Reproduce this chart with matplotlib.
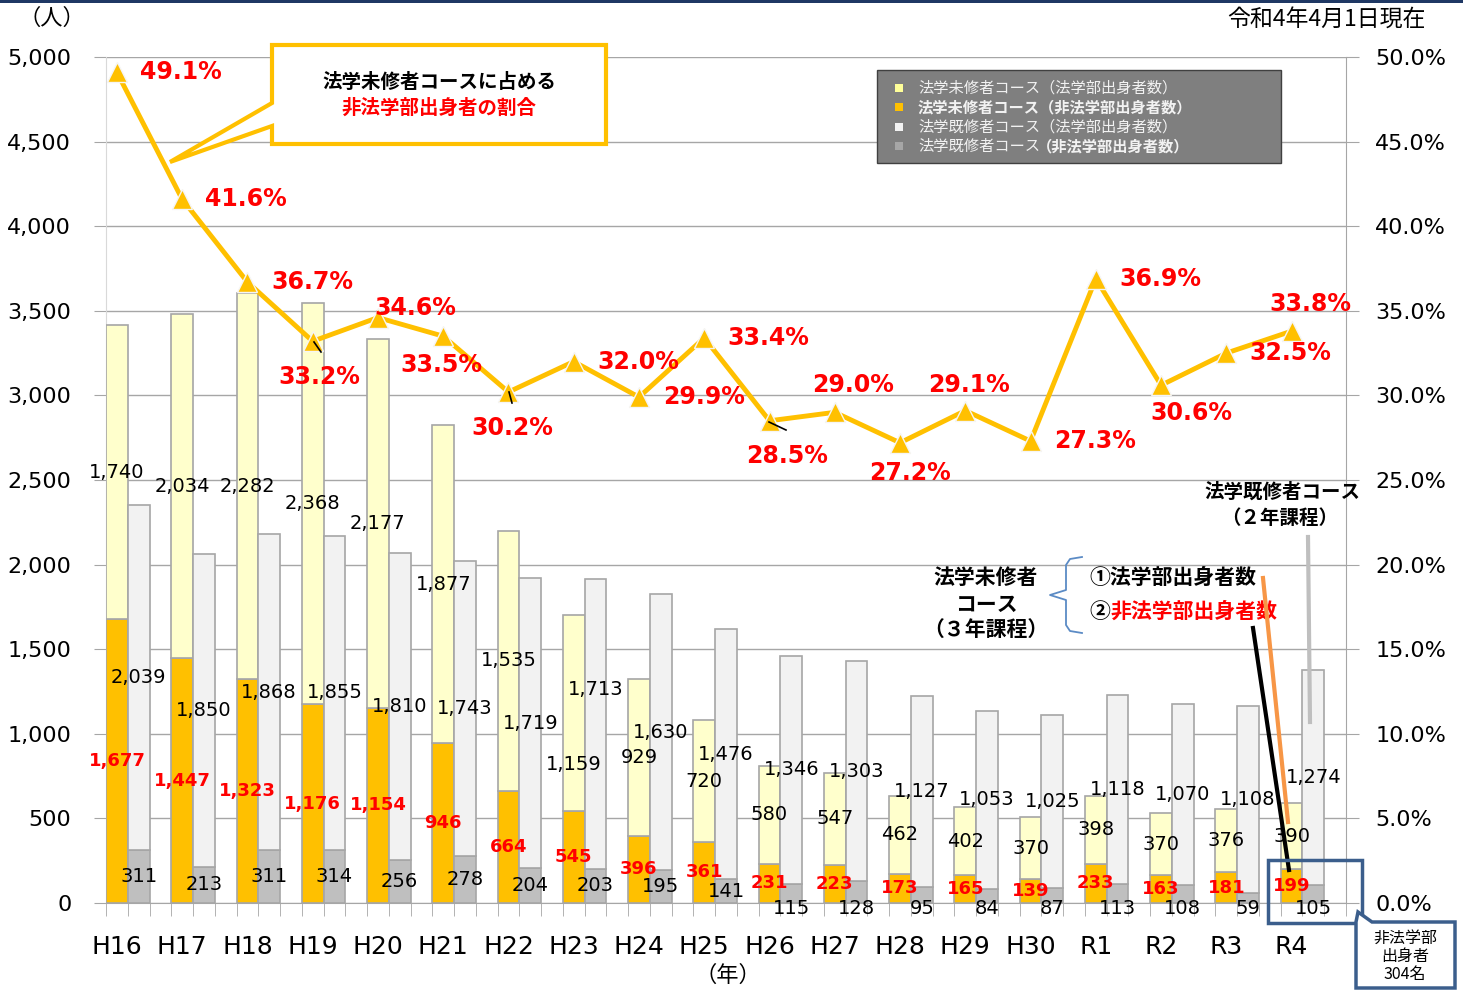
import numpy as np
import matplotlib.pyplot as plt
from matplotlib.patches import Rectangle, Polygon
from matplotlib.lines import Line2D
from matplotlib.ticker import FuncFormatter, FixedLocator

plt.rcParams['font.family'] = ['DejaVu Sans', 'Noto Sans CJK JP']
JP = ['Noto Sans CJK JP', 'DejaVu Sans']

years = ['H16', 'H17', 'H18', 'H19', 'H20', 'H21', 'H22', 'H23', 'H24', 'H25',
         'H26', 'H27', 'H28', 'H29', 'H30', 'R1', 'R2', 'R3', 'R4']
mishu_hogaku = [1740, 2034, 2282, 2368, 2177, 1877, 1535, 1159, 929, 720,
                580, 547, 462, 402, 370, 398, 370, 376, 390]
mishu_hihogaku = [1677, 1447, 1323, 1176, 1154, 946, 664, 545, 396, 361,
                  231, 223, 173, 165, 139, 233, 163, 181, 199]
kishu_hogaku = [2039, 1850, 1868, 1855, 1810, 1743, 1719, 1713, 1630, 1476,
                1346, 1303, 1127, 1053, 1025, 1118, 1070, 1108, 1274]
kishu_hihogaku = [311, 213, 311, 314, 256, 278, 204, 203, 195, 141,
                  115, 128, 95, 84, 87, 113, 108, 59, 105]
ratio = [49.1, 41.6, 36.7, 33.2, 34.6, 33.5, 30.2, 32.0, 29.9, 33.4,
         28.5, 29.0, 27.2, 29.1, 27.3, 36.9, 30.6, 32.5, 33.8]

# label offsets (pixels) for the percentage labels
pct_off = [(64, 0), (64, 0), (65, 0), (7, -36), (37, 10), (-2, -29), (4, -36),
           (65, 0), (65, 0), (64, 0), (18, -35), (18, 27), (10, -30), (4, 26),
           (65, 0), (65, 0), (30, -28), (64, 0), (19, 27)]
# label nudges (pixels) where labels were moved by hand in the original
yl_nudge = {7: -52}
kl_nudge = {7: 34}

c_ylight = '#FFFFCC'
c_orange = '#FFC000'
c_glight = '#F2F2F2'
c_gray = '#BFBFBF'
c_edge = '#A6A6A6'
c_blue = '#3B5E8C'

W, H = 1463, 990
fig = plt.figure(figsize=(W / 100, H / 100), dpi=100)


def px(x, y):
    return (x / W, 1 - y / H)


ax = fig.add_axes([106 / W, 1 - 903 / H, (1346 - 106) / W, (903 - 57) / H])

n = len(years)
xm = np.arange(n) * 3 + 0.5
xk = xm + 1
mh = np.array(mishu_hihogaku)
ml = np.array(mishu_hogaku)
kh = np.array(kishu_hihogaku)
kl = np.array(kishu_hogaku)

ax.bar(xm, mh, width=1, color=c_orange, edgecolor=c_edge, lw=1.2, zorder=3)
ax.bar(xm, ml, width=1, bottom=mh, color=c_ylight, edgecolor=c_edge, lw=1.2, zorder=3)
ax.bar(xk, kh, width=1, color=c_gray, edgecolor=c_edge, lw=1.2, zorder=3)
ax.bar(xk, kl, width=1, bottom=kh, color=c_glight, edgecolor=c_edge, lw=1.2, zorder=3)

for i in range(n):
    ax.text(xm[i], mh[i] / 2, f'{mh[i]:,}', color='red', fontweight='bold',
            fontsize=13, ha='center', va='center', zorder=5)
    ax.annotate(f'{ml[i]:,}', (xm[i], mh[i] + ml[i] / 2), xytext=(0, yl_nudge.get(i, 0)),
                textcoords='offset pixels', color='black', fontsize=14,
                ha='center', va='center', zorder=5)
    ky = kh[i] / 2 if i < 10 else -35
    ax.text(xk[i], ky, f'{kh[i]:,}', color='black', fontsize=14,
            ha='center', va='center', zorder=5)
    ax.annotate(f'{kl[i]:,}', (xk[i], kh[i] + kl[i] / 2), xytext=(0, kl_nudge.get(i, 0)),
                textcoords='offset pixels', color='black', fontsize=14,
                ha='center', va='center', zorder=5)

ax.set_xlim(0, n * 3)
ax.set_ylim(0, 5000)
ax.set_yticks(np.arange(0, 5001, 500))
ax.yaxis.set_major_formatter(FuncFormatter(lambda v, p: f'{int(v):,}'))
ax.grid(axis='y', color='#A6A6A6', lw=1, zorder=0)
ax.set_xticks(xm)
ax.set_xticklabels(years, fontsize=18)
ax.xaxis.set_minor_locator(FixedLocator(np.arange(0, n * 3 + 1)))
ax.tick_params(axis='x', which='major', length=0, pad=23)
ax.tick_params(axis='x', which='minor', length=9, color='#A6A6A6', direction='out')
ax.tick_params(axis='y', length=9, color='#A6A6A6', labelsize=16, pad=16)
ax.spines['top'].set_visible(False)
ax.spines['right'].set_visible(False)
ax.spines['left'].set_color('#D9D9D9')
ax.spines['bottom'].set_color('#A6A6A6')

ax2 = ax.twinx()
ax2.set_ylim(0, 50)
ax2.set_yticks(np.arange(0, 51, 5))
ax2.yaxis.set_major_formatter(FuncFormatter(lambda v, p: f'{v:.1f}%'))
ax2.tick_params(axis='y', length=9, color='#A6A6A6', labelsize=16, pad=12)
ax2.spines['top'].set_visible(False)
ax2.spines['left'].set_visible(False)
ax2.spines['bottom'].set_visible(False)
ax2.spines['right'].set_color('#A6A6A6')
ax2.plot(xm, ratio, color=c_orange, lw=3.5, marker='^', ms=15,
         mec='#F5F5F5', mew=1, zorder=4)
for i in range(n):
    ax2.annotate(f'{ratio[i]:.1f}%', (xm[i], ratio[i]), xytext=pct_off[i],
                 textcoords='offset pixels', ha='center', va='center',
                 color='red', fontweight='bold', fontsize=17, zorder=6)

# small black leader lines of the percentage labels
for (x0, y0, x1, y1) in [(314, 342, 321, 352), (509, 392, 512, 403), (769, 422, 786, 430)]:
    fig.add_artist(Line2D([x0 / W, x1 / W], [1 - y0 / H, 1 - y1 / H],
                          transform=fig.transFigure, color='black', lw=1.2, zorder=8))

# top band
fig.add_artist(Rectangle((0, 1 - 3 / H), 1, 3 / H, transform=fig.transFigure,
                         color='#1F3864', lw=0))

fig.text(*px(18, 18), '（人）', fontsize=16, family=JP, ha='left', va='center')
fig.text(*px(1426, 20), '令和4年4月1日現在', fontsize=16.5, family=JP, ha='right', va='center')
fig.text(*px(728, 975), '（年）', fontsize=16, family=JP, ha='center', va='center')

# callout
call = [(272, 45), (606, 45), (606, 144), (272, 144), (272, 126), (170, 162), (272, 103)]
fig.add_artist(Polygon([px(*p) for p in call], closed=True, transform=fig.transFigure,
                       facecolor='white', edgecolor=c_orange, lw=3, zorder=10))
fig.text(*px(439, 83), '法学未修者コースに占める', fontsize=14, fontweight='bold',
         family=JP, ha='center', va='center', zorder=11)
fig.text(*px(439, 108), '非法学部出身者の割合', fontsize=14, fontweight='bold',
         color='red', family=JP, ha='center', va='center', zorder=11)

# legend box
fig.add_artist(Rectangle(px(877, 163), 404 / W, 93 / H, transform=fig.transFigure,
                         facecolor='#7F7F7F', edgecolor='#404040', lw=1, zorder=10))
leg_items = [('法学未修者コース（法学部出身者数）', '#FFFF99', 'normal'),
             ('法学未修者コース（非法学部出身者数）', c_orange, 'bold'),
             ('法学既修者コース（法学部出身者数）', c_glight, 'normal'),
             ('法学既修者コース', '#A6A6A6', 'normal')]
for k, (lab, col, wt) in enumerate(leg_items):
    yy = 88 + k * 19.3
    fig.add_artist(Rectangle(px(895, yy + 4), 8 / W, 8 / H, transform=fig.transFigure,
                             color=col, lw=0, zorder=11))
    fig.text(*px(918, yy), lab, fontsize=11, fontweight=wt, color='#F2F2F2',
             family=JP, ha='left', va='center', zorder=11)
fig.text(*px(1037, 146), '（非法学部出身者数）', fontsize=11, fontweight='bold',
         color='#F2F2F2', family=JP, ha='left', va='center', zorder=11)

# right side annotations
fig.text(*px(1282, 492), '法学既修者コース', fontsize=14, fontweight='bold',
         family=JP, ha='center', va='center')
fig.text(*px(1280, 518), '（２年課程）', fontsize=14, fontweight='bold',
         family=JP, ha='center', va='center')
for yy, t in [(578, '法学未修者'), (604, 'コース'), (629, '（３年課程）')]:
    fig.text(*px(986, yy), t, fontsize=15, fontweight='bold', family=JP,
             ha='center', va='center')
fig.text(*px(1089, 577), '①法学部出身者数', fontsize=15, fontweight='bold',
         family=JP, ha='left', va='center')
fig.text(*px(1089, 611), '②', fontsize=15, fontweight='bold',
         family=JP, ha='left', va='center')
fig.text(*px(1110, 611), '非法学部出身者数', fontsize=15, fontweight='bold',
         color='red', family=JP, ha='left', va='center')

# brace
bx = [1082, 1070, 1066, 1066, 1050, 1066, 1066, 1070, 1082]
by = [557, 559, 565, 590, 595, 600, 625, 631, 633]
fig.add_artist(Line2D([b / W for b in bx], [1 - b / H for b in by],
                      transform=fig.transFigure, color='#5B8BC5', lw=1.3))

# pointer lines
for (x0, y0, x1, y1, col, lw) in [(1263, 578, 1288, 822, '#F79646', 3),
                                  (1253, 628, 1289, 870, 'black', 3),
                                  (1308, 537, 1310, 722, '#BFBFBF', 3)]:
    fig.add_artist(Line2D([x0 / W, x1 / W], [1 - y0 / H, 1 - y1 / H],
                          transform=fig.transFigure, color=col, lw=lw, zorder=8))

# highlight box and note
fig.add_artist(Rectangle(px(1268, 923), 94 / W, 63 / H, transform=fig.transFigure,
                         fill=False, edgecolor=c_blue, lw=2.5, zorder=9))
note = [(1356, 922), (1358, 912), (1372, 922), (1455, 922), (1455, 988), (1356, 988)]
fig.add_artist(Polygon([px(*p) for p in note], closed=True, transform=fig.transFigure,
                       facecolor='white', edgecolor=c_blue, lw=2.5, zorder=9))
for yy, t in [(938, '非法学部'), (956, '出身者'), (974, '304名')]:
    fig.text(*px(1405, yy), t, fontsize=11.5, family=JP, ha='center', va='center', zorder=10)

fig.savefig('out.png', dpi=100)
